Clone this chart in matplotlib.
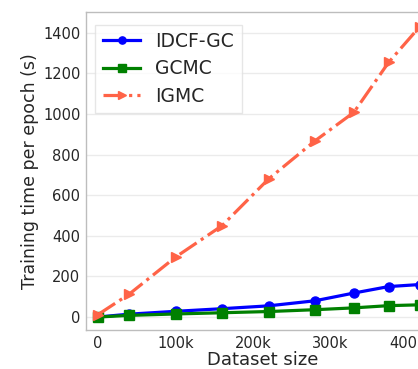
import matplotlib
matplotlib.use('Agg')
import matplotlib.pyplot as plt

sizes = [0, 40000, 100000, 160000, 220000, 280000, 330000, 375000, 415000]
idcf = [0, 14, 28, 41, 55, 80, 118, 150, 160]
gcmc = [0, 8, 15, 21, 27, 36, 45, 56, 60]
igmc = [12, 112, 295, 450, 680, 868, 1008, 1255, 1430]
xticks = [0, 100000, 200000, 300000, 400000]
xticklabels = ['0', '100k', '200k', '300k', '400k']

txt = '#262626'
plt.rcParams['font.family'] = 'DejaVu Sans'

fig = plt.figure(figsize=(4.18, 3.69), dpi=100)
# axes extends past the right edge, like the cropped original
ax = fig.add_axes([86/418, 39/369, 353/418, 318/369])

ax.plot(sizes, idcf, color='b', marker='o', lw=2.3, ms=6.5, label='IDCF-GC')
ax.plot(sizes, gcmc, color='g', marker='s', lw=2.3, ms=6.5, label='GCMC')
ax.plot(sizes, igmc, color='tomato', marker='>', ls='-.', lw=2.3, ms=6.5, label='IGMC')

ax.set_xlim(-15500, 440000)
ax.set_ylim(-64, 1503)
ax.set_xticks(xticks)
ax.set_xticklabels(xticklabels)
ax.set_yticks(range(0, 1401, 200))
ax.tick_params(labelsize=10.5, colors=txt, length=0, pad=4)
ax.yaxis.grid(True, color='#ebebeb', lw=1)
for s in ax.spines.values():
    s.set_color('#bdbdbd')
    s.set_linewidth(1)

ax.set_xlabel('Dataset size', fontsize=13, color=txt, labelpad=0)
ax.set_ylabel('Training time per epoch (s)', fontsize=12.5, color=txt, labelpad=3)

leg = ax.legend(loc='upper left', fontsize=13.5, frameon=True, fancybox=False,
                handlelength=2.0, borderpad=0.4, labelspacing=0.45,
                markerscale=0.8, bbox_to_anchor=(0.0, 0.99))
leg.get_frame().set_edgecolor('#e0e0e0')
for t in leg.get_texts():
    t.set_color(txt)

fig.savefig('out.png', dpi=100)
